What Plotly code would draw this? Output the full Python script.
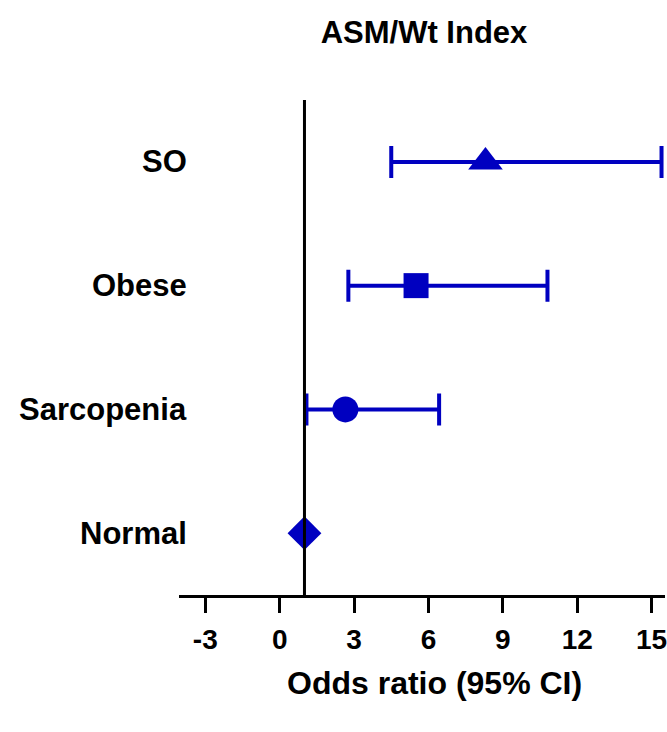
import plotly.graph_objects as go

# Data
categories = ["Normal", "Sarcopenia", "Obese", "SO"]
odds_ratio = [1.0, 2.65, 5.5, 8.3]
ci_lower = [1.0, 1.08, 2.77, 4.5]
ci_upper = [1.0, 6.43, 10.8, 15.4]
symbols = ["diamond", "circle", "square", "triangle-up"]
marker_sizes = [26, 26, 25, 30]
x_ticks = [-3, 0, 3, 6, 9, 12, 15]
ref_value = 1

BLUE = "#0000C0"
FONT = "Liberation Sans, Arial, sans-serif"

ypos = list(range(1, len(categories) + 1))

fig = go.Figure()

for i, cat in enumerate(categories):
    has_ci = ci_upper[i] != ci_lower[i]
    fig.add_trace(go.Scatter(
        x=[odds_ratio[i]], y=[ypos[i]], mode="markers",
        marker=dict(symbol=symbols[i], size=marker_sizes[i], color=BLUE, line=dict(width=0)),
        error_x=dict(type="data", symmetric=False,
                     array=[ci_upper[i] - odds_ratio[i]],
                     arrayminus=[odds_ratio[i] - ci_lower[i]],
                     color=BLUE, thickness=4, width=16, visible=has_ci),
        showlegend=False, cliponaxis=False,
    ))

fig.add_vline(x=ref_value, line=dict(color="black", width=3))

# category labels
for i, cat in enumerate(categories):
    fig.add_annotation(text=f"<b>{cat}</b>", x=(189 - 179) / 488, xref="paper", y=ypos[i], yref="y",
                       xanchor="right", yanchor="middle", showarrow=False,
                       font=dict(family=FONT, size=31, color="black"))

# x-axis title
fig.add_annotation(text="<b>Odds ratio (95% CI)</b>", x=(436 - 179) / 488, xref="paper",
                   y=-(683 - 595) / 495, yref="paper", xanchor="center", yanchor="middle",
                   showarrow=False, font=dict(family=FONT, size=32, color="black"))

fig.update_layout(
    width=667, height=732,
    margin=dict(l=179, r=0, t=100, b=137),
    paper_bgcolor="white", plot_bgcolor="white",
    title=dict(text="<b>ASM/Wt Index</b>", x=424 / 667, xanchor="center",
               y=1 - 32 / 732, yanchor="middle", yref="container",
               font=dict(family=FONT, size=31, color="black")),
    xaxis=dict(range=[-4.06, 15.54], tickvals=x_ticks, ticktext=[f"<b>{v}</b>" for v in x_ticks],
               showline=True, linewidth=3, linecolor="black", ticks="outside",
               ticklen=15, tickwidth=3, tickcolor="black", showgrid=False, zeroline=False,
               ticklabeloverflow="allow", ticklabelstandoff=2,
               tickfont=dict(family=FONT, size=28, color="black")),
    yaxis=dict(range=[0.5, 4.5], visible=False, showgrid=False, zeroline=False),
)

fig.write_html("out.html")
